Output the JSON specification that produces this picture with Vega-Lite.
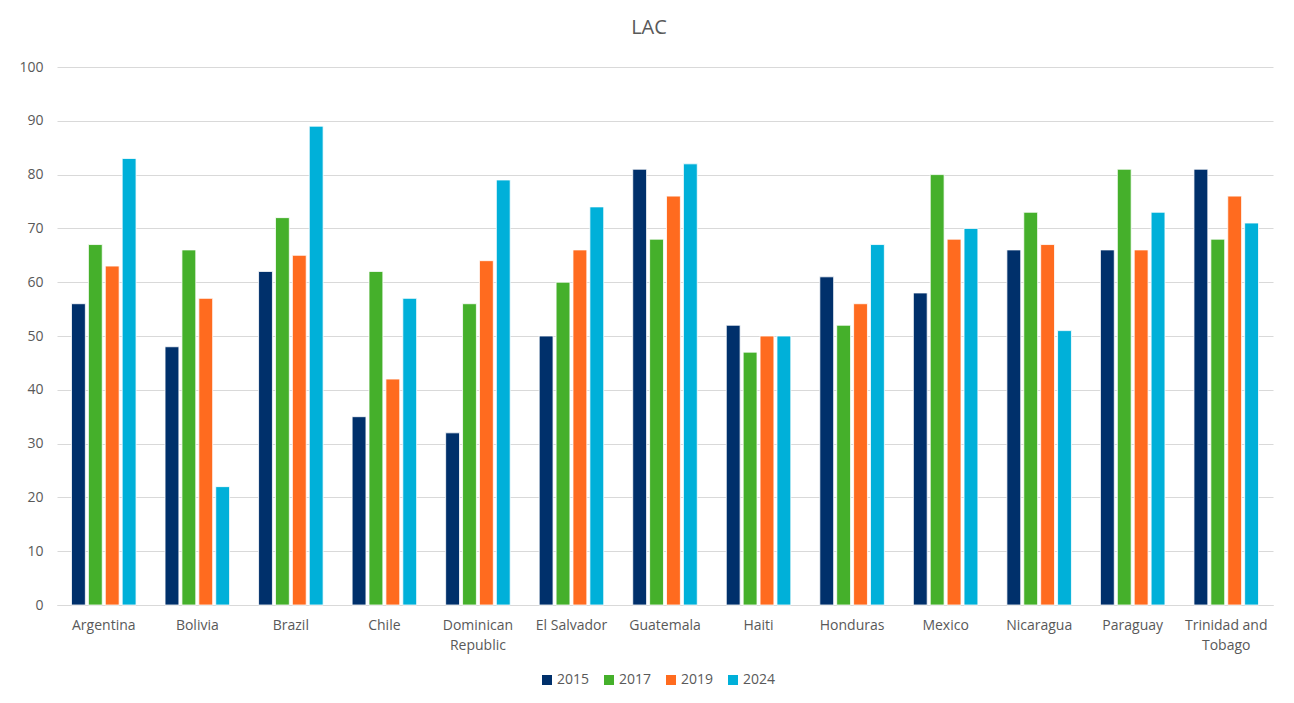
{
  "$schema": "https://vega.github.io/schema/vega-lite/v6.json",
  "description": "LAC grouped bar chart by country and year.",
  "autosize": {"type": "none"},
  "width": 1216,
  "height": 538,
  "padding": {"left": 57, "top": 67, "right": 21, "bottom": 98},
  "background": "white",
  "title": {
    "text": "LAC",
    "fontSize": 20,
    "fontWeight": "normal",
    "font": "Open Sans",
    "color": "#595959",
    "offset": 22,
    "dx": -16
  },
  "data": {
    "values": [
      {"country": "Argentina", "year": "2015", "value": 56},
      {"country": "Argentina", "year": "2017", "value": 67},
      {"country": "Argentina", "year": "2019", "value": 63},
      {"country": "Argentina", "year": "2024", "value": 83},
      {"country": "Bolivia", "year": "2015", "value": 48},
      {"country": "Bolivia", "year": "2017", "value": 66},
      {"country": "Bolivia", "year": "2019", "value": 57},
      {"country": "Bolivia", "year": "2024", "value": 22},
      {"country": "Brazil", "year": "2015", "value": 62},
      {"country": "Brazil", "year": "2017", "value": 72},
      {"country": "Brazil", "year": "2019", "value": 65},
      {"country": "Brazil", "year": "2024", "value": 89},
      {"country": "Chile", "year": "2015", "value": 35},
      {"country": "Chile", "year": "2017", "value": 62},
      {"country": "Chile", "year": "2019", "value": 42},
      {"country": "Chile", "year": "2024", "value": 57},
      {"country": "Dominican Republic", "year": "2015", "value": 32},
      {"country": "Dominican Republic", "year": "2017", "value": 56},
      {"country": "Dominican Republic", "year": "2019", "value": 64},
      {"country": "Dominican Republic", "year": "2024", "value": 79},
      {"country": "El Salvador", "year": "2015", "value": 50},
      {"country": "El Salvador", "year": "2017", "value": 60},
      {"country": "El Salvador", "year": "2019", "value": 66},
      {"country": "El Salvador", "year": "2024", "value": 74},
      {"country": "Guatemala", "year": "2015", "value": 81},
      {"country": "Guatemala", "year": "2017", "value": 68},
      {"country": "Guatemala", "year": "2019", "value": 76},
      {"country": "Guatemala", "year": "2024", "value": 82},
      {"country": "Haiti", "year": "2015", "value": 52},
      {"country": "Haiti", "year": "2017", "value": 47},
      {"country": "Haiti", "year": "2019", "value": 50},
      {"country": "Haiti", "year": "2024", "value": 50},
      {"country": "Honduras", "year": "2015", "value": 61},
      {"country": "Honduras", "year": "2017", "value": 52},
      {"country": "Honduras", "year": "2019", "value": 56},
      {"country": "Honduras", "year": "2024", "value": 67},
      {"country": "Mexico", "year": "2015", "value": 58},
      {"country": "Mexico", "year": "2017", "value": 80},
      {"country": "Mexico", "year": "2019", "value": 68},
      {"country": "Mexico", "year": "2024", "value": 70},
      {"country": "Nicaragua", "year": "2015", "value": 66},
      {"country": "Nicaragua", "year": "2017", "value": 73},
      {"country": "Nicaragua", "year": "2019", "value": 67},
      {"country": "Nicaragua", "year": "2024", "value": 51},
      {"country": "Paraguay", "year": "2015", "value": 66},
      {"country": "Paraguay", "year": "2017", "value": 81},
      {"country": "Paraguay", "year": "2019", "value": 66},
      {"country": "Paraguay", "year": "2024", "value": 73},
      {"country": "Trinidad and Tobago", "year": "2015", "value": 81},
      {"country": "Trinidad and Tobago", "year": "2017", "value": 68},
      {"country": "Trinidad and Tobago", "year": "2019", "value": 76},
      {"country": "Trinidad and Tobago", "year": "2024", "value": 71}
    ]
  },
  "mark": {"type": "bar", "stroke": "white", "strokeWidth": 0.8},
  "encoding": {
    "x": {
      "field": "country",
      "type": "nominal",
      "sort": null,
      "title": null,
      "scale": {"paddingInner": 0.31, "paddingOuter": 0.155},
      "axis": {
        "labelAngle": 0,
        "labelFontSize": 14,
        "labelColor": "#595959",
        "labelFont": "Open Sans",
        "labelPadding": 13,
        "labelLineHeight": 20,
        "ticks": false,
        "domainColor": "#d9d9d9",
        "labelExpr": "datum.value == 'Dominican Republic' ? ['Dominican', 'Republic'] : datum.value == 'Trinidad and Tobago' ? ['Trinidad and', 'Tobago'] : datum.value"
      }
    },
    "xOffset": {
      "field": "year",
      "type": "nominal",
      "scale": {"paddingInner": 0.18}
    },
    "y": {
      "field": "value",
      "type": "quantitative",
      "title": null,
      "scale": {"domain": [0, 100]},
      "axis": {
        "values": [0, 10, 20, 30, 40, 50, 60, 70, 80, 90, 100],
        "domain": false,
        "ticks": false,
        "labelFontSize": 14,
        "labelColor": "#595959",
        "labelFont": "Open Sans",
        "labelPadding": 14,
        "gridColor": "#d9d9d9"
      }
    },
    "color": {
      "field": "year",
      "type": "nominal",
      "title": null,
      "scale": {
        "domain": ["2015", "2017", "2019", "2024"],
        "range": ["#00306B", "#45B02B", "#FF6B1F", "#00B0D9"]
      },
      "legend": {
        "orient": "none",
        "direction": "horizontal",
        "legendX": 483,
        "legendY": 606,
        "symbolType": "square",
        "symbolSize": 100,
        "symbolStrokeWidth": 0,
        "labelFontSize": 14,
        "labelColor": "#595959",
        "labelFont": "Open Sans",
        "labelOffset": 3,
        "columnPadding": 12
      }
    }
  },
  "config": {
    "view": {"stroke": null}
  }
}
